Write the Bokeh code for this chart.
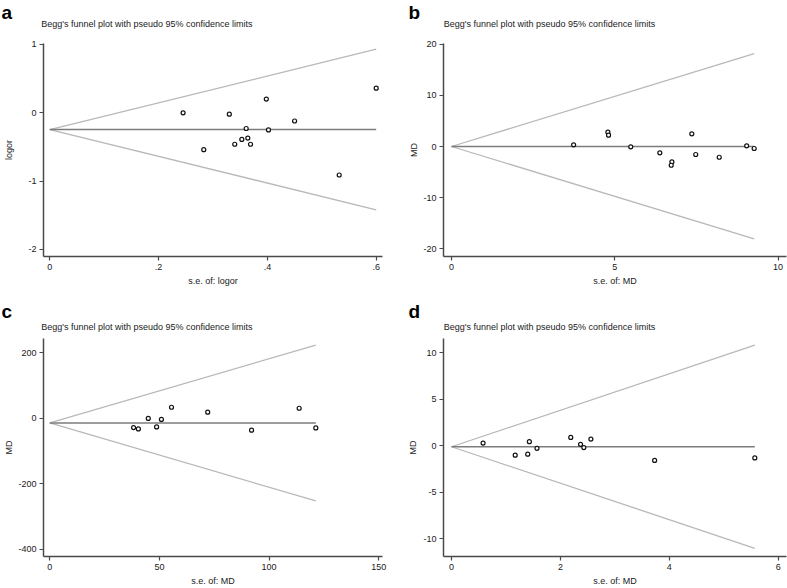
from bokeh.plotting import figure
from bokeh.layouts import column, row
from bokeh.models import Range1d, FixedTicker, Title
from bokeh.embed import file_html
from bokeh.resources import INLINE

FONT = "Liberation Sans"
TITLE = "Begg's funnel plot with pseudo 95% confidence limits"

# ---------------- data ----------------
# panel a
a_se = [0.245, 0.283, 0.330, 0.340, 0.353, 0.361, 0.364, 0.369, 0.398, 0.402, 0.450, 0.532, 0.600]
a_est = [0.00, -0.54, -0.02, -0.46, -0.39, -0.23, -0.37, -0.46, 0.20, -0.25, -0.12, -0.91, 0.36]
a_pooled = -0.245
a_limit_se = [0.0, 0.600]
a_upper = [-0.245, 0.93]
a_lower = [-0.245, -1.42]
a_xticks = [0, 0.2, 0.4, 0.6]
a_xtick_labels = ["0", ".2", ".4", ".6"]
a_yticks = [-2, -1, 0, 1]
a_ytick_labels = ["-2", "-1", "0", "1"]

# panel b
b_se = [3.74, 4.79, 4.81, 5.49, 6.38, 6.75, 6.73, 7.36, 7.48, 8.20, 9.04, 9.27]
b_est = [0.33, 2.80, 2.22, -0.06, -1.24, -3.00, -3.67, 2.49, -1.57, -2.10, 0.14, -0.39]
b_pooled = 0.0
b_limit_se = [0.0, 9.27]
b_upper = [0.0, 18.2]
b_lower = [0.0, -18.1]
b_xticks = [0, 5, 10]
b_xtick_labels = ["0", "5", "10"]
b_yticks = [-20, -10, 0, 10, 20]
b_ytick_labels = ["-20", "-10", "0", "10", "20"]

# panel c
c_se = [38.2, 40.4, 44.9, 48.7, 50.9, 55.5, 72.0, 92.0, 113.7, 121.3]
c_est = [-29, -33, -1, -27, -4, 33, 18, -37, 30, -30]
c_pooled = -15
c_limit_se = [0.0, 121.3]
c_upper = [-15, 223]
c_lower = [-15, -253]
c_xticks = [0, 50, 100, 150]
c_xtick_labels = ["0", "50", "100", "150"]
c_yticks = [-400, -200, 0, 200]
c_ytick_labels = ["-400", "-200", "0", "200"]

# panel d
d_se = [0.58, 1.17, 1.40, 1.43, 1.57, 2.19, 2.37, 2.43, 2.56, 3.73, 5.57]
d_est = [0.30, -1.00, -0.90, 0.45, -0.27, 0.90, 0.16, -0.19, 0.72, -1.57, -1.30]
d_pooled = -0.1
d_limit_se = [0.0, 5.57]
d_upper = [-0.1, 10.8]
d_lower = [-0.1, -11.0]
d_xticks = [0, 2, 4, 6]
d_xtick_labels = ["0", "2", "4", "6"]
d_yticks = [-10, -5, 0, 5, 10]
d_ytick_labels = ["-10", "-5", "0", "5", "10"]

AXIS_COLOR = "#4a4a4a"
TEXT_COLOR = "#1a1a1a"


def panel(letter, se, est, pooled, lim_se, upper, lower,
          xticks, xlabels, yticks, ylabels, xr, yr, xlab, ylab,
          width, height, borders, title_dx, letter_dx, sub_standoff, letter_standoff,
          ylab_standoff):
    bl, br, bt, bb = borders
    p = figure(width=width, height=height, output_backend="svg", toolbar_location=None,
               x_range=Range1d(*xr), y_range=Range1d(*yr),
               min_border_left=bl, min_border_right=br,
               min_border_top=bt, min_border_bottom=bb,
               background_fill_color="white", border_fill_color="white")
    p.outline_line_color = None
    p.xgrid.visible = False
    p.ygrid.visible = False

    p.line(lim_se, upper, line_color="#b8b8b8", line_width=1.3)
    p.line(lim_se, lower, line_color="#b8b8b8", line_width=1.3)
    p.line(lim_se, [pooled, pooled], line_color="#7c7c7c", line_width=1.6)
    p.scatter(se, est, marker="circle", size=4, fill_color="white",
              line_color="#111111", line_width=1.2)

    p.xaxis.ticker = FixedTicker(ticks=xticks)
    p.yaxis.ticker = FixedTicker(ticks=yticks)
    p.xaxis.major_label_overrides = dict(zip(xticks, xlabels))
    p.yaxis.major_label_overrides = dict(zip(yticks, ylabels))
    for ax in p.axis:
        ax.axis_line_color = AXIS_COLOR
        ax.axis_line_width = 1.5
        ax.major_tick_line_color = AXIS_COLOR
        ax.major_tick_line_width = 1.2
        ax.major_tick_out = 4
        ax.major_tick_in = 0
        ax.minor_tick_out = 0
        ax.minor_tick_in = 0
        ax.major_label_text_font = FONT
        ax.major_label_text_font_size = "9px"
        ax.major_label_text_color = TEXT_COLOR
        ax.major_label_standoff = 3
        ax.axis_label_text_font = FONT
        ax.axis_label_text_font_size = "9px"
        ax.axis_label_text_font_style = "normal"
        ax.axis_label_text_color = TEXT_COLOR
    p.xaxis.axis_label = xlab
    p.xaxis.axis_label_standoff = 3
    p.yaxis.axis_label = ylab
    p.yaxis.axis_label_standoff = ylab_standoff

    p.add_layout(Title(text=TITLE, align="left", offset=title_dx, standoff=sub_standoff,
                       text_font=FONT, text_font_size="9px", text_font_style="normal",
                       text_color=TEXT_COLOR), "above")
    p.add_layout(Title(text=letter, align="left", offset=letter_dx, standoff=letter_standoff,
                       text_font=FONT, text_font_size="19px", text_font_style="bold",
                       text_color="#000000"), "above")
    return p


pa = panel("a", a_se, a_est, a_pooled, a_limit_se, a_upper, a_lower,
           a_xticks, a_xtick_labels, a_yticks, a_ytick_labels,
           (-0.0116, 0.6116), (-2.103, 1.014), "s.e. of: logor", "logor",
           400, 293, (43, 18, 43, 37), -2.3, -42, 30, -43, 11)
pb = panel("b", b_se, b_est, b_pooled, b_limit_se, b_upper, b_lower,
           b_xticks, b_xtick_labels, b_yticks, b_ytick_labels,
           (-0.245, 10.26), (-21.53, 20.16), "s.e. of: MD", "MD",
           387, 293, (43, 1, 43, 37), 0.3, -35, 30, -43, 1)
pc = panel("c", c_se, c_est, c_pooled, c_limit_se, c_upper, c_lower,
           c_xticks, c_xtick_labels, c_yticks, c_ytick_labels,
           (-2.87, 151.7), (-422.7, 243.0), "s.e. of: MD", "MD",
           400, 295, (43, 18, 45, 30), -2.3, -42, 14, -18, 1)
pd_ = panel("d", d_se, d_est, d_pooled, d_limit_se, d_upper, d_lower,
            d_xticks, d_xtick_labels, d_yticks, d_ytick_labels,
            (-0.147, 6.152), (-11.88, 11.52), "s.e. of: MD", "MD",
            387, 295, (43, 1, 45, 30), 0.3, -35, 14, -18, 2)

layout = column(row(pa, pb, spacing=0), row(pc, pd_, spacing=0), spacing=0)

open("out.html", "w").write(file_html(layout, INLINE))
